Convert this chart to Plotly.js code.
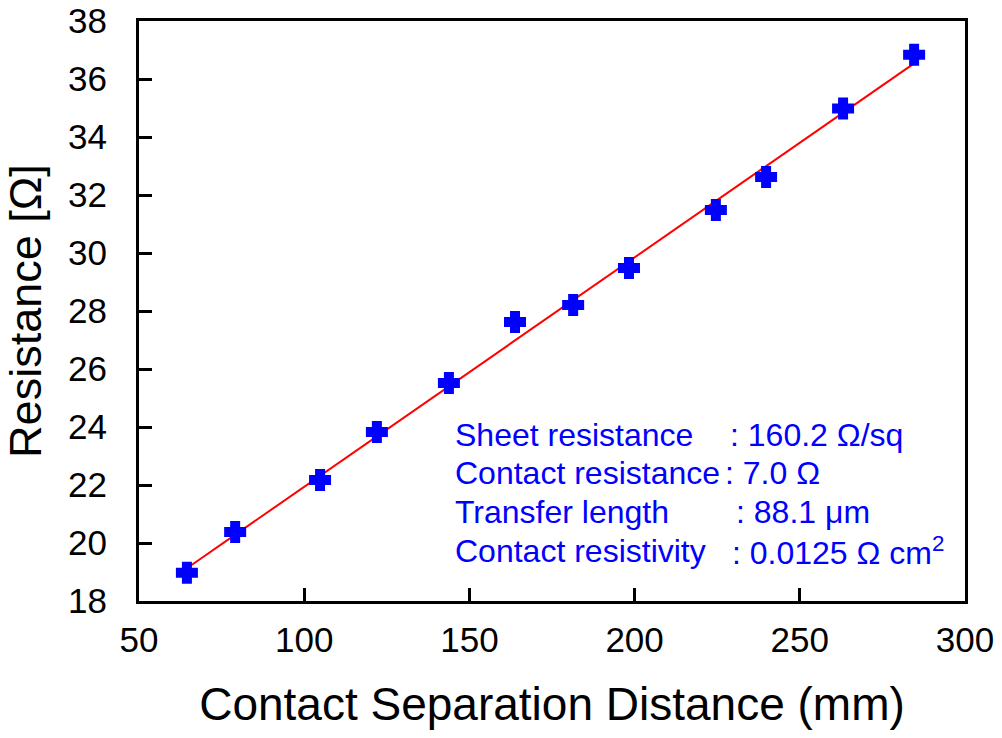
<!DOCTYPE html>
<html>
<head>
<meta charset="utf-8">
<script src="https://cdn.plot.ly/plotly-3.0.1.min.js"></script>
<style>html,body{margin:0;padding:0;background:#fff;}#chart{width:1002px;height:738px;}</style>
</head>
<body>
<div id="chart"></div>
<script>
const separation = [64.5, 79.1, 104.8, 122.0, 143.8, 163.8, 181.4, 198.3, 224.6, 239.8, 263.1, 284.6];
const resistance = [18.97, 20.38, 22.17, 23.83, 25.52, 27.62, 28.21, 29.48, 31.48, 32.62, 34.98, 36.84];
// Linear fit endpoints
const fitX = [64.5, 284.6];
const fitY = [19.13, 36.54];
// Annotation text
const paramLabels = ["Sheet resistance", "Contact resistance", "Transfer length", "Contact resistivity"];
const paramValues = [": 160.2 Ω/sq", ": 7.0 Ω", ": 88.1 μm", ": 0.0125 Ω cm<sup>2</sup>"];
const xTicks = [50, 100, 150, 200, 250, 300];
const yTicks = [18, 20, 22, 24, 26, 28, 30, 32, 34, 36, 38];

const font = "Arial, 'Liberation Sans', sans-serif";
const blue = "#0000ff";

const traces = [
  {x: fitX, y: fitY, mode: "lines", line: {color: "#ff0000", width: 2}, hoverinfo: "skip", showlegend: false},
  {x: separation, y: resistance, mode: "markers",
   marker: {symbol: "cross", size: 15, color: blue, line: {color: blue, width: 4}}, showlegend: false}
];

const labelY = [0.287, 0.221, 0.154, 0.087];
const valueX = [0.7125, 0.7074, 0.720, 0.7149];
const annotations = [];
paramLabels.forEach((t, i) => {
  annotations.push({xref: "paper", yref: "paper", x: 0.3800, y: labelY[i], xanchor: "left", yanchor: "middle",
    text: t, showarrow: false, font: {family: font, size: 32, color: blue}});
  annotations.push({xref: "paper", yref: "paper", x: valueX[i], y: labelY[i], xanchor: "left", yanchor: "middle",
    text: paramValues[i], showarrow: false, font: {family: font, size: 32, color: blue}});
});

const axisCommon = {
  showline: true, linecolor: "#000", linewidth: 3, mirror: true,
  ticks: "inside", ticklen: 13, tickwidth: 3, tickcolor: "#000",
  showgrid: false, zeroline: false,
  tickfont: {family: font, size: 35, color: "#000"}
};

const layout = {
  width: 1002, height: 738,
  margin: {l: 139, r: 37, t: 21, b: 137},
  paper_bgcolor: "#fff", plot_bgcolor: "#fff",
  xaxis: Object.assign({}, axisCommon, {
    range: [50, 300], tickvals: xTicks, ticklabelstandoff: 6,
    title: {text: "Contact Separation Distance (mm)", font: {family: font, size: 46, color: "#000"}, standoff: 30}
  }),
  yaxis: Object.assign({}, axisCommon, {
    range: [18, 38], tickvals: yTicks, ticklabelstandoff: 22,
    title: {text: "Resistance [Ω]", font: {family: font, size: 45, color: "#000"}, standoff: 14}
  }),
  annotations: annotations,
  showlegend: false
};

Plotly.newPlot("chart", traces, layout, {displayModeBar: false, staticPlot: true});
</script>
</body>
</html>
